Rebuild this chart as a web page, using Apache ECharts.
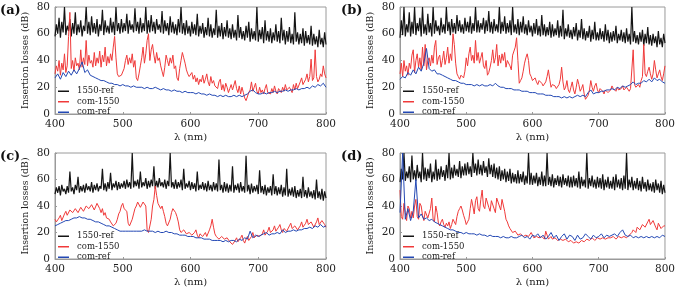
<!DOCTYPE html>
<html><head><meta charset="utf-8">
<script src="https://cdn.jsdelivr.net/npm/echarts@6/dist/echarts.min.js"></script>
<style>html,body{margin:0;padding:0;background:#fff}#c{width:678px;height:289px}</style>
</head><body><div id="c"></div>
<script>
// wavelength grids (nm)
const wl2 = []; for (let w = 400; w <= 800; w += 2) wl2.push(w);
const wl4 = []; for (let w = 400; w <= 800; w += 4) wl4.push(w);
const seriesNames = ['1550-ref', 'com-1550', 'com-ref'];
const panelLabels = ['(a)', '(b)', '(c)', '(d)'];

// ---- Panel (a) ----
const a_ref1550 = [58,67,60,72,57,69,61,80,59,66, 62,71,58,68,60,76,59,67,61,70, 58,66,62,80,60,69,59,73,61,68, 60,71,58,67,62,78,59,70,61,66, 60,72,61,69,59,80,62,68,60,71, 61,68,62,75,60,70,63,67,61,79, 62,69,60,72,61,68,62,80,60,70, 61,74,62,69,60,71,63,67,61,77, 60,70,62,68,59,73,61,69,60,67, 59,71,61,80,60,68,59,70,60,66, 58,69,60,67,59,75,58,66,60,68, 57,65,59,72,58,67,57,64,59,78, 57,66,58,68,56,65,58,70,57,64, 56,67,57,63,55,74,57,65,56,62, 55,66,57,69,54,64,56,62,55,80, 54,63,56,65,53,70,55,62,54,64, 53,61,55,67,54,62,53,72,55,63, 52,62,54,65,53,60,52,76,54,61, 52,60,53,64,51,62,53,59,52,66, 51,60,52,58,50,63,52,57,50,61, 52];
const a_com1550 = [30,36,32,40,29,38,33,45,31,36, 58,76,34,40,32,42,36,38,33,48, 35,42,37,55,36,44,38,40,35,46, 36,42,38,47,35,44,39,50,36,43, 38,45,40,50,58,42,30,28,27,29, 30,34,40,44,37,42,38,45,35,40, 27,25,30,36,42,50,38,45,55,60, 40,48,52,44,38,46,40,42,36,32, 28,35,44,40,36,42,38,44,34,36, 27,25,34,40,46,42,38,33,30,28, 27,31,26,29,24,27,22,26,24,29, 23,26,30,24,21,28,23,25,21,22, 19,24,26,18,22,17,23,20,16,19, 22,18,17,25,19,16,21,15,20,16, 12,10,11,16,18,24,17,20,23,17, 15,20,16,18,15,19,22,16,17,15, 19,16,21,17,15,19,18,16,20,17, 22,18,17,20,19,16,22,18,23,19, 20,24,27,22,21,26,30,24,28,41, 25,27,48,28,24,26,30,28,36,30, 27];
const a_comref = [27,30,26,31,28,32,29,33,30,34,39, 31,33,29,28,27,26,25,25,24,23,23, 22,22,21,22,21,21,20,21,20,20, 20,19,20,19,19,20,19,18,19,18, 18,17,18,17,17,16,17,16,16,16, 15,16,15,15,14,15,14,14,13,14, 13,14,13,13,14,13,14,13,14,15, 17,18,16,15,15,16,15,16,16,17, 16,17,17,18,17,18,18,19,18,19, 19,20,19,21,20,22,21,23,20];
// ---- Panel (b) ----
const b_ref1550 = [57,70,59,80,58,67,61,76,58,69, 60,80,59,68,62,72,58,80,60,67, 59,75,61,68,58,80,60,70,62,66, 59,72,61,67,60,80,62,69,59,71, 61,68,60,74,62,70,61,67,60,72, 62,69,61,73,60,68,62,80,61,70, 61,68,63,72,60,70,62,77,61,69, 60,71,62,67,61,80,60,69,62,73, 60,68,61,70,59,80,61,67,60,71, 59,69,61,73,60,67,59,70,61,66, 58,68,60,71,59,66,58,74,59,67, 58,65,59,69,57,67,58,64,59,70, 57,66,58,78,56,64,58,67,57,63, 56,65,58,68,55,63,57,71,56,64, 55,62,57,66,54,63,56,69,55,61, 55,64,56,62,54,67,55,63,53,61, 54,62,55,66,53,60,55,63,54,61, 53,64,54,60,52,80,54,62,53,59, 52,61,54,63,51,60,53,65,52,59, 51,60,53,58,50,62,52,57,50,60, 53];
const b_com1550 = [30,38,28,40,32,36,29,38,34,44, 48,31,40,45,35,42,33,50,36,52, 33,40,42,36,44,38,50,55,37,42, 44,35,40,47,37,42,50,38,45,40, 60,52,38,30,28,26,29,30,27,32, 42,36,45,50,40,44,38,55,40,46, 38,42,46,36,34,40,29,31,35,40, 48,38,42,52,36,44,38,45,40,46, 35,40,41,36,33,44,45,50,57,40, 23,25,27,32,38,42,45,40,30,28, 25,26,27,24,22,25,26,23,21,22, 24,28,33,26,20,22,23,21,19,20, 22,26,35,24,18,20,25,18,16,20, 24,18,15,20,26,22,17,19,22,15, 11,12,14,18,25,20,17,21,23,18, 16,19,20,17,15,18,19,16,16,18, 21,19,18,17,20,18,17,19,21,18, 18,20,20,17,19,20,48,22,20,21, 22,20,25,28,52,30,28,32,35,30, 26,30,40,33,27,30,33,28,25,30, 36];
const b_comref = [26,28,27,31,29,33,30,35,32,38,49, 34,32,33,30,30,29,28,27,26,25, 25,24,23,23,22,22,22,21,22,21, 22,21,21,22,21,23,21,20,20,19, 19,19,18,18,18,17,17,17,16,16, 16,15,15,15,14,14,14,13,13,13, 12,13,12,13,12,13,14,13,14,13, 16,18,15,16,16,17,17,18,18,19, 18,20,19,21,20,21,22,24,22,23, 23,25,24,26,24,27,25,26,24,23];
// ---- Panel (c) ----
const c_ref1550 = [49,54,50,55,48,56,51,53,49,55, 50,66,51,54,49,56,52,62,50,55, 51,56,50,57,52,55,51,58,50,56, 52,57,51,55,53,68,52,57,51,58, 53,65,52,57,54,59,52,58,53,57, 54,59,53,60,54,58,53,80,54,59, 55,60,53,66,54,58,55,61,53,59, 54,60,55,70,53,59,54,61,55,58, 54,60,53,59,55,80,54,58,53,60, 53,58,54,60,52,68,53,57,54,59, 52,58,53,57,51,66,52,56,53,58, 52,57,51,59,52,56,51,58,52,57, 51,75,52,56,50,58,51,57,50,56, 51,70,50,56,52,57,50,58,51,55, 50,78,51,56,49,57,50,55,51,56, 49,67,50,55,49,56,48,54,50,55, 48,64,49,55,48,54,49,56,47,54, 48,68,47,53,48,54,47,55,46,52, 47,53,46,62,47,52,46,54,47,51, 46,52,45,60,46,51,45,53,44,51, 46];
const c_com1550 = [30,28,27,31,33,29,30,34,36,33, 33,37,38,35,34,38,37,35,35,39, 39,36,36,40,41,38,37,41,40,37, 36,42,42,38,35,38,33,35,31,30, 30,28,28,25,24,27,30,34,36,40, 42,38,38,36,27,25,24,30,34,38, 40,43,44,39,38,43,42,40,22,20, 20,30,40,45,55,48,42,40,38,40, 36,32,27,25,25,30,35,38,38,35, 32,28,22,20,20,22,22,19,18,20, 21,18,17,20,22,18,16,19,20,17, 18,20,17,16,22,25,30,24,19,17, 17,15,15,17,18,15,14,16,17,13, 12,11,11,14,16,13,13,16,18,14, 12,15,17,14,14,17,20,16,15,18, 19,17,16,19,22,18,18,21,24,20, 19,22,25,21,21,24,26,22,20,23, 24,21,22,25,27,23,23,25,26,22, 22,25,28,24,24,27,30,26,25,28, 27,24,23,28,31,26,25,29,28,26, 24];
const c_comref = [25,26,27,28,29,29,30,31,31,32,31, 31,30,30,29,28,28,27,26,25,25, 24,23,22,21,21,21,21,21,21,21, 21,21,22,21,21,21,20,21,20,20, 21,20,20,19,19,18,18,18,17,17, 17,16,16,16,15,15,15,14,14,14, 14,13,14,13,14,14,13,15,14,16, 15,21,16,18,17,18,19,20,18,19, 19,20,19,22,20,21,21,22,21,22, 22,23,23,24,23,25,24,26,24,25];
// ---- Panel (d) ----
const d_ref1550 = [58,68,60,80,59,66,61,70,58,78, 60,67,59,71,61,66,58,80,60,69, 59,68,61,72,58,66,60,75,59,68, 60,70,62,67,59,71,61,80,60,69, 61,71,63,68,62,74,61,70,63,72, 63,73,64,70,62,80,65,72,63,75, 64,71,63,74,65,70,62,76,64,71, 62,72,61,69,60,70,59,67,60,68, 58,66,59,68,57,65,58,64,57,67, 57,64,58,66,56,63,57,80,56,65, 56,63,57,65,55,62,56,66,55,63, 55,80,56,62,55,64,54,61,56,63, 55,62,54,64,56,61,55,63,54,62, 54,63,55,61,54,66,53,62,55,60, 54,80,53,61,55,63,54,60,53,62, 54,61,53,64,52,60,54,62,53,59, 53,62,52,64,54,60,53,61,52,63, 53,80,52,60,54,62,52,59,53,61, 52,59,51,62,53,58,51,60,52,57, 51,58,50,60,52,57,50,59,49,56, 50];
const d_com1550 = [52,32,30,42,35,29,40,38,31,36, 31,40,45,32,30,42,40,33,29,36, 36,31,30,38,46,30,28,40,35,27, 25,28,30,26,24,27,25,28,23,26, 30,28,26,32,36,38,40,37,33,30, 26,28,30,38,45,40,34,44,47,38, 36,45,52,40,38,46,45,39,36,44, 44,38,35,46,47,40,37,45,44,36, 30,28,25,23,22,20,19,21,21,18, 17,19,19,17,16,18,18,17,16,20, 20,16,15,17,18,16,15,17,17,15, 21,18,15,16,17,15,14,16,16,14, 13,15,15,14,13,15,14,13,12,14, 14,12,12,13,13,12,12,14,14,13, 13,15,15,14,13,16,16,14,14,16, 17,15,15,16,16,15,14,16,17,16, 15,17,16,15,15,17,17,16,15,17, 17,16,16,18,18,20,22,21,20,24, 25,22,22,26,27,24,23,28,30,26, 25,29,28,24,22,27,26,23,22,25, 25];
const d_comref = [35,80,30,38,29,36,60,31,34,30,31, 29,30,28,27,26,25,24,23,22,22, 21,20,20,19,20,19,19,19,18,19, 18,18,17,18,17,17,17,16,17,16, 16,17,16,16,17,18,16,17,15,18, 17,19,16,18,15,17,20,16,18,14, 17,19,15,18,17,14,18,15,16,19, 17,15,18,16,17,19,16,18,17,18, 19,17,20,22,18,17,18,16,17,16, 17,16,17,16,17,16,17,16,18,17];

const panels = [
  [a_ref1550, a_com1550, a_comref],
  [b_ref1550, b_com1550, b_comref],
  [c_ref1550, c_com1550, c_comref],
  [d_ref1550, d_com1550, d_comref]
];
const grids_x = [wl2, wl2, wl4];
const colors = ['#141414', '#f03a3a', '#2348b4'];
const SERIF = 'DejaVu Serif';
const grids = [
  {left: 55, top: 7, width: 271, height: 107},
  {left: 400, top: 7, width: 269, height: 107},
  {left: 55, top: 153, width: 271, height: 106},
  {left: 400, top: 153, width: 269, height: 106}
];
const axisColor = '#9a9a9a';
const option = {
  animation: false,
  backgroundColor: '#fff',
  grid: grids.map(g => Object.assign({show: true, borderColor: axisColor, borderWidth: 1}, g)),
  xAxis: grids.map((g, i) => ({
    type: 'value', gridIndex: i, min: 400, max: 800, interval: 100,
    name: 'λ (nm)', nameLocation: 'middle', nameGap: 18, nameMoveOverlap: false,
    nameTextStyle: {fontFamily: SERIF, fontSize: 10, color: '#222'},
    axisLine: {lineStyle: {color: axisColor}},
    axisTick: {inside: true, length: 2, lineStyle: {color: axisColor}},
    axisLabel: {fontFamily: SERIF, fontSize: 10.5, color: '#222', margin: 5},
    splitLine: {show: false}
  })),
  yAxis: grids.map((g, i) => ({
    type: 'value', gridIndex: i, min: 0, max: 80, interval: 20,
    name: 'Insertion losses (dB)', nameLocation: 'middle', nameGap: 25, nameMoveOverlap: false,
    nameTextStyle: {fontFamily: SERIF, fontSize: 9.3, color: '#222'},
    axisLine: {show: true, lineStyle: {color: axisColor}},
    axisTick: {show: true, inside: true, length: 2, lineStyle: {color: axisColor}},
    axisLabel: {fontFamily: SERIF, fontSize: 10.5, color: '#222', margin: 5},
    splitLine: {show: false}
  })),
  legend: grids.map(g => ({
    data: seriesNames, orient: 'vertical', left: g.left + 3, top: g.top + g.height - 28,
    icon: 'rect', itemWidth: 11, itemHeight: 1.5, itemGap: 0, padding: 0,
    selectedMode: false,
    textStyle: {fontFamily: SERIF, fontSize: 8.5, color: '#222', lineHeight: 10.5, padding: [0, 0, 0, 3]}
  })),
  series: [],
  graphic: grids.map((g, i) => ({
    type: 'text', left: i % 2 === 0 ? 0 : 341, top: g.top - 3,
    style: {text: panelLabels[i], fontFamily: SERIF, fontWeight: 'bold', fontSize: 13, fill: '#111'}
  }))
};
panels.forEach((arrs, p) => {
  arrs.forEach((arr, k) => {
    const xs = grids_x[k];
    option.series.push({
      type: 'line', name: seriesNames[k], xAxisIndex: p, yAxisIndex: p,
      data: xs.map((w, i) => [w, arr[i]]),
      showSymbol: false, symbol: 'none', clip: true,
      lineStyle: {color: colors[k], width: k === 0 ? 1.2 : 1}, itemStyle: {color: colors[k]},
      z: 2 + k
    });
  });
});
const chart = echarts.init(document.getElementById('c'), null, {renderer: 'canvas'});
chart.setOption(option);
</script></body></html>
